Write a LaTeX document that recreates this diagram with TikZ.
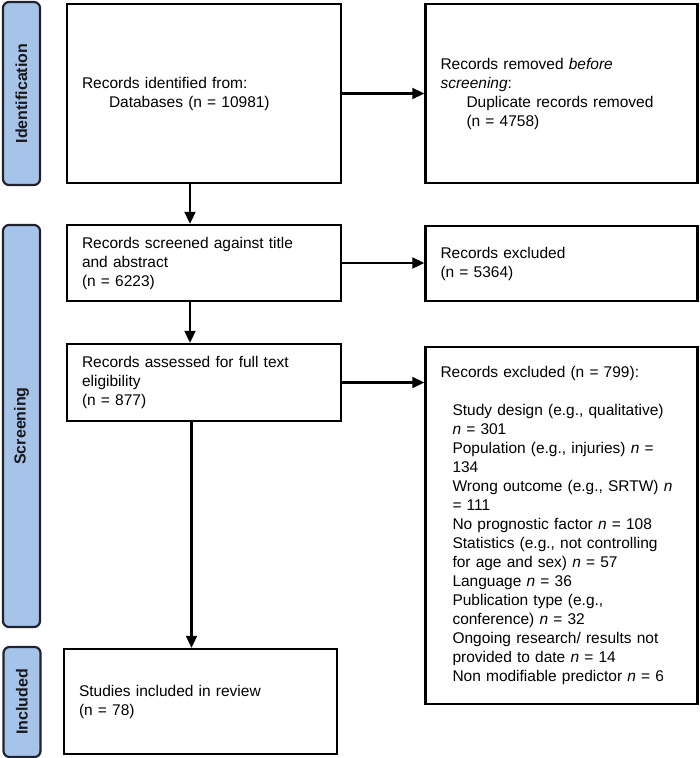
\documentclass[tikz,border=0pt]{standalone}
\usepackage{fontspec}
\setmainfont{Liberation Sans}
\usetikzlibrary{arrows.meta}
\definecolor{sideblue}{RGB}{166,196,233}
\definecolor{sideedge}{RGB}{30,35,45}
\begin{document}
\begin{tikzpicture}[x=1pt,y=-1pt,
  box/.style={draw=black, line width=2.5pt, fill=white, inner xsep=15pt, inner ysep=0pt,
    align=left, font=\fontsize{15.5}{19}\selectfont},
  side/.style={draw=sideedge, line width=2.2pt, fill=sideblue, rounded corners=6pt,
    minimum width=37pt, inner sep=0pt},
  sidetext/.style={rotate=90, font=\fontsize{16}{19}\selectfont\bfseries, text=black!90},
  arr/.style={line width=2.3pt, -{Triangle[length=12pt,width=11pt]}}
]
\useasboundingbox (0,0) rectangle (700,758);

% side labels
\node[side, minimum height=183pt] (s1) at (21.5,93.5) {};
\node[sidetext] (t1) at (s1.center) {Identification};
\node[side, minimum height=402pt] (s2) at (21.5,426) {};
\node[sidetext] (t2) at (s2.center) {Screening};
\node[side, minimum height=110pt] (s3) at (22,702) {};
\node[sidetext] (t3) at (s3.center) {Included};

% boxes
\node[box, text width=244pt, minimum height=179pt] (b1) at (204,93.5)
  {Records identified from:\\\hspace*{27pt}Databases (n = 10981)};
\node[box, text width=242pt, minimum height=179pt] (b2) at (561.5,93.5)
  {Records removed \textit{before}\\\textit{screening}:\\\hspace*{26pt}Duplicate records removed\\\hspace*{26pt}(n = 4758)};
\node[box, text width=244pt, minimum height=76pt] (b3) at (204,263)
  {Records screened against title\\and abstract\\(n = 6223)};
\node[box, text width=242pt, minimum height=75pt] (b4) at (561.5,263.5)
  {Records excluded\\(n = 5364)};
\node[box, text width=244pt, minimum height=77pt] (b5) at (204,382.5)
  {Records assessed for full text\\eligibility\\(n = 877)};
\node[box, text width=242pt, minimum height=357pt] (b6) at (561.5,525.5)
  {Records excluded (n = 799):\\[19pt]
   \hspace*{12pt}Study design (e.g., qualitative)\\
   \hspace*{12pt}\textit{n} = 301\\
   \hspace*{12pt}Population (e.g., injuries) \textit{n} =\\
   \hspace*{12pt}134\\
   \hspace*{12pt}Wrong outcome (e.g., SRTW) \textit{n}\\
   \hspace*{12pt}= 111\\
   \hspace*{12pt}No prognostic factor \textit{n} = 108\\
   \hspace*{12pt}Statistics (e.g., not controlling\\
   \hspace*{12pt}for age and sex) \textit{n} = 57\\
   \hspace*{12pt}Language \textit{n} = 36\\
   \hspace*{12pt}Publication type (e.g.,\\
   \hspace*{12pt}conference) \textit{n} = 32\\
   \hspace*{12pt}Ongoing research/ results not\\
   \hspace*{12pt}provided to date \textit{n} = 14\\
   \hspace*{12pt}Non modifiable predictor \textit{n} = 6};
\node[box, text width=243pt, minimum height=105pt] (b7) at (200.5,701.5)
  {Studies included in review\\(n = 78)};

% connectors
\coordinate (ax) at (190,0);
\coordinate (ax2) at (191.5,0);
\draw[arr] (b1.east) -- (b2.west);
\draw[arr] (ax |- b1.south) -- (ax |- b3.north);
\draw[arr] (b3.east) -- (b3.east -| b4.west);
\draw[arr] (ax |- b3.south) -- (ax |- b5.north);
\draw[arr] (b5.east) -- (b5.east -| b6.west);
\draw[arr] (ax2 |- b5.south) -- (ax2 |- b7.north);
\end{tikzpicture}
\end{document}
